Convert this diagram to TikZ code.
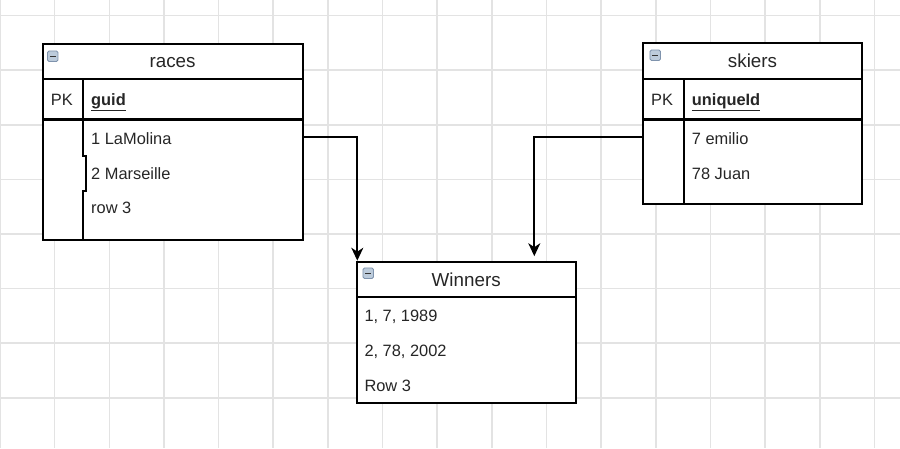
\documentclass[tikz,border=0pt]{standalone}
\usepackage{fontspec}
\setmainfont{Liberation Sans}
\usetikzlibrary{arrows.meta,calc}
\definecolor{txt}{HTML}{262626}
\definecolor{gridc}{HTML}{E3E3E3}
\definecolor{iconfill}{HTML}{BCCBDB}
\definecolor{iconborder}{HTML}{7F93AD}
\tikzset{
  gridline/.style={draw=gridc, line width=1.6pt},
  tbl/.style={draw=black, line width=2pt, inner sep=0pt, outer sep=0pt, anchor=north west, fill=white},
  sep/.style={draw=black, line width=2pt},
  pksep/.style={draw=black, line width=3pt},
  ttl/.style={text=txt, font=\fontsize{18.8}{22}\selectfont, inner sep=0pt, anchor=base},
  row/.style={text=txt, font=\fontsize{16.4}{19}\selectfont, inner sep=0pt, anchor=base west},
  icon/.style={draw=iconborder, fill=iconfill, rounded corners=1.5pt, minimum size=10.5pt, inner sep=0pt, line width=0.9pt, anchor=north west,
    path picture={\draw[line width=1.4pt, black!80] ([xshift=2.3pt]path picture bounding box.west) -- ([xshift=-2.3pt]path picture bounding box.east);}},
  conn/.style={draw=black, line width=2pt, -{Stealth[length=13pt 0, width=12pt 0, inset=4pt 0]}},
}
\begin{document}
\begin{tikzpicture}[x=1pt,y=-1pt]
\useasboundingbox (0,0) rectangle (900,448);
\fill[white] (0,0) rectangle (900,448);
% grid
\foreach \i in {0,...,16} \draw[gridline] (\i*54.65,0) -- (\i*54.65,448);
\foreach \j in {0,...,7} \draw[gridline] (0,15.5+\j*54.6) -- (900,15.5+\j*54.6);

% races
\node[tbl, minimum width=260.2pt, minimum height=196.5pt] (races) at (42.5,43.5) {};
\draw[sep] (42.5,79.3) -- (302.7,79.3);
\draw[pksep] (42.5,119.3) -- (302.7,119.3);
\draw[sep] (83.3,79.3) -- (83.3,156) -- (86,156) -- (86,190.7) -- (83.3,190.7) -- (83.3,240);
\node[icon] (racesicon) at (47,50.5) {};
\node[ttl] (racestitle) at (172.6,67.3) {races};
\node[row] (racespk) at (50.7,105) {PK};
\node[row] (racesguid) at (91,105.5) {\underline{\textbf{guid}}};
\node[row] (races1) at (91,144) {1 LaMolina};
\node[row] (races2) at (91,179) {2 Marseille};
\node[row] (races3) at (91,213.3) {row 3};

% skiers
\node[tbl, minimum width=219.6pt, minimum height=161pt] (skiers) at (642.7,43.3) {};
\draw[sep] (642.7,79.3) -- (862.3,79.3);
\draw[pksep] (642.7,119.3) -- (862.3,119.3);
\draw[sep] (684,79.3) -- (684,204.3);
\node[icon] (skiersicon) at (649.5,49.5) {};
\node[ttl] (skierstitle) at (752.5,67.3) {skiers};
\node[row] (skierspk) at (651,105) {PK};
\node[row] (skiersid) at (691.7,105.5) {\underline{\textbf{uniqueId}}};
\node[row] (skiers1) at (691.7,144) {7 emilio};
\node[row] (skiers2) at (691.7,179) {78 Juan};

% winners
\node[tbl, minimum width=219pt, minimum height=141.6pt] (winners) at (356.7,261.7) {};
\draw[sep] (356.7,296.7) -- (575.7,296.7);
\node[icon] (winnersicon) at (362.5,267.5) {};
\node[ttl] (winnerstitle) at (466.2,286) {Winners};
\node[row] (winners1) at (364.3,321) {1, 7, 1989};
\node[row] (winners2) at (364.3,356) {2, 78, 2002};
\node[row] (winners3) at (364.3,391) {Row 3};

% connectors
\coordinate (wl) at ([xshift=0.6pt,yshift=1pt]winners.north west);
\coordinate (wr) at ([xshift=177.6pt,yshift=5.5pt]winners.north west);
\draw[conn] ([yshift=4.4pt]races.east) -| (wl);
\draw[conn] ([yshift=-13.5pt]skiers.west) -| (wr);
\end{tikzpicture}
\end{document}
